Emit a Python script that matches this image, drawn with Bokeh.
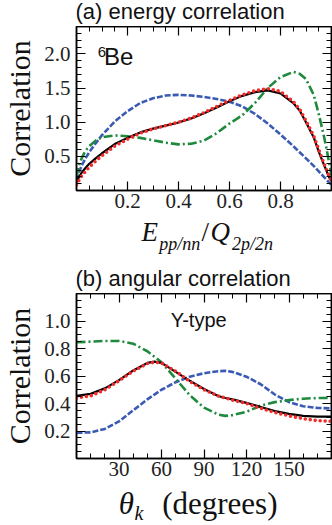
from bokeh.plotting import figure
from bokeh.models import Range1d, FixedTicker, LinearAxis, Label
from bokeh.layouts import column
from bokeh.embed import file_html
from bokeh.resources import INLINE

# ---------------- (a) energy correlation ----------------
energy_x = [0.0, 0.01, 0.02, 0.035, 0.05, 0.075, 0.1, 0.15, 0.2, 0.25, 0.3, 0.35,
            0.4, 0.45, 0.5, 0.55, 0.6, 0.65, 0.7, 0.75, 0.8, 0.85, 0.875, 0.9,
            0.93, 0.95, 0.97, 0.98, 0.99, 1.0]
energy_black = [0.12, 0.2, 0.26, 0.33, 0.39, 0.47, 0.545, 0.68, 0.77, 0.85, 0.905, 0.95,
                0.995, 1.055, 1.13, 1.215, 1.305, 1.385, 1.44, 1.465, 1.42, 1.28, 1.17, 1.0,
                0.78, 0.57, 0.38, 0.29, 0.2, 0.14]
energy_red = [0.08, 0.15, 0.21, 0.28, 0.34, 0.43, 0.51, 0.65, 0.75, 0.84, 0.9, 0.95,
              1.0, 1.06, 1.14, 1.23, 1.32, 1.4, 1.46, 1.49, 1.45, 1.3, 1.19, 1.02,
              0.8, 0.6, 0.4, 0.31, 0.22, 0.13]
energy_blue = [0.15, 0.27, 0.36, 0.47, 0.56, 0.69, 0.81, 1.01, 1.16, 1.28, 1.35, 1.39,
               1.4, 1.39, 1.37, 1.34, 1.3, 1.23, 1.12, 0.98, 0.82, 0.65, 0.56, 0.47,
               0.36, 0.28, 0.2, 0.16, 0.12, 0.08]
energy_green = [0.2, 0.37, 0.47, 0.58, 0.65, 0.73, 0.78, 0.805, 0.795, 0.77, 0.735, 0.7,
                0.675, 0.685, 0.73, 0.84, 0.98, 1.1, 1.28, 1.5, 1.66, 1.735, 1.71, 1.63,
                1.4, 1.12, 0.8, 0.62, 0.42, 0.22]
energy_xticks = [0.2, 0.4, 0.6, 0.8]
energy_xtick_labels = ["0.2", "0.4", "0.6", "0.8"]
energy_yticks = [0.5, 1.0, 1.5, 2.0]
energy_ytick_labels = ["0.5", "1.0", "1.5", "2.0"]

# ---------------- (b) angular correlation ----------------
angle_x = [0, 10, 20, 30, 40, 50, 55, 60, 70, 80, 90, 100, 105, 110, 120, 130,
           140, 150, 160, 170, 180]
angle_black = [0.455, 0.47, 0.51, 0.57, 0.64, 0.695, 0.705, 0.695, 0.63, 0.565, 0.505,
               0.455, 0.44, 0.43, 0.405, 0.375, 0.345, 0.325, 0.31, 0.305, 0.305]
angle_red = [0.44, 0.455, 0.5, 0.565, 0.635, 0.69, 0.7, 0.695, 0.635, 0.56, 0.5,
             0.455, 0.44, 0.425, 0.4, 0.365, 0.335, 0.31, 0.29, 0.275, 0.27]
angle_blue = [0.187, 0.19, 0.215, 0.27, 0.35, 0.43, 0.465, 0.5, 0.555, 0.595, 0.62,
              0.635, 0.637, 0.63, 0.595, 0.54, 0.465, 0.41, 0.38, 0.368, 0.364]
angle_green = [0.845, 0.85, 0.855, 0.855, 0.835, 0.78, 0.74, 0.7, 0.58, 0.46, 0.37,
               0.32, 0.31, 0.315, 0.34, 0.385, 0.41, 0.425, 0.435, 0.44, 0.44]
angle_xticks = [30, 60, 90, 120, 150]
angle_xtick_labels = ["30", "60", "90", "120", "150"]
angle_yticks = [0.2, 0.4, 0.6, 0.8, 1.0]
angle_ytick_labels = ["0.2", "0.4", "0.6", "0.8", "1.0"]

BLUE = "#3A5AB4"
GREEN = "#1E8A3C"
RED = "#F42A2A"
SERIF = "Liberation Serif"
SANS = "Liberation Sans"
W = 332
LEFT, RIGHT = 72, 1


def style_axis(ax, ticks, minor, labels=None):
    ax.ticker = FixedTicker(ticks=ticks, minor_ticks=minor)
    ax.axis_line_color = "black"
    ax.axis_line_width = 1.5
    ax.major_tick_line_color = "black"
    ax.minor_tick_line_color = "black"
    ax.major_tick_line_width = 1.2
    ax.minor_tick_line_width = 1.0
    ax.major_tick_in = 9
    ax.major_tick_out = 0
    ax.minor_tick_in = 5
    ax.minor_tick_out = 0
    if labels is None:
        ax.major_label_overrides = {t: "" for t in ticks}
        ax.major_label_text_font_size = "1px"
        ax.major_label_standoff = 0
    else:
        ax.major_label_overrides = {t: l for t, l in zip(ticks, labels)}
        ax.major_label_text_font = SERIF
        ax.major_label_text_font_size = "21px"
        ax.major_label_text_color = "#222222"


def make_fig(height, bottom, xr, yr, xt, xminor, xl, yt, yminor, yl):
    p = figure(width=W, height=height, x_range=Range1d(*xr), y_range=Range1d(*yr),
               output_backend="svg", toolbar_location=None,
               min_border_left=LEFT, min_border_right=RIGHT, min_border_top=0,
               min_border_bottom=bottom)
    p.title = None
    p.grid.visible = False
    p.outline_line_color = "black"
    p.outline_line_width = 1.5
    style_axis(p.xaxis[0], xt, xminor, xl)
    p.xaxis[0].major_label_standoff = 3
    style_axis(p.yaxis[0], yt, yminor, yl)
    p.yaxis[0].major_label_standoff = 6
    p.yaxis[0].axis_label = "Correlation"
    p.yaxis[0].axis_label_text_font = SERIF
    p.yaxis[0].axis_label_text_font_style = "normal"
    p.yaxis[0].axis_label_text_font_size = "30px"
    p.yaxis[0].axis_label_text_color = "#111111"
    p.yaxis[0].axis_label_standoff = 5
    ax_top = LinearAxis()
    style_axis(ax_top, xt, xminor)
    p.add_layout(ax_top, "above")
    ax_right = LinearAxis()
    style_axis(ax_right, yt, yminor)
    p.add_layout(ax_right, "right")
    return p


def text_fig(height):
    # frame spans the same pixels as the plot frames; x data = page pixel
    t = figure(width=W, height=height, x_range=Range1d(LEFT, W - RIGHT),
               y_range=Range1d(0, height), output_backend="svg", toolbar_location=None,
               x_axis_location=None, y_axis_location=None,
               min_border_left=LEFT, min_border_right=RIGHT, min_border_top=0,
               min_border_bottom=0)
    t.title = None
    t.outline_line_color = None
    t.grid.visible = False
    return t


def draw(p, x, blue, green, black, red):
    p.line(x, blue, line_color=BLUE, line_width=2.6, line_dash="6 2")
    p.line(x, green, line_color=GREEN, line_width=2.6, line_dash="9 3 2 3")
    p.line(x, black, line_color="black", line_width=2.2)
    p.line(x, red, line_color=RED, line_width=3.6, line_dash="0 5", line_cap="round")


def lab(p, x, y, text, size, font=SERIF, style="normal"):
    # y is the vertical middle of the text
    p.add_layout(Label(x=x, y=y, text=text, text_font=font, text_font_size=size,
                       text_font_style=style, text_baseline="middle",
                       text_align="left", text_color="#111111"))


# ---------- title (a) ----------
t1 = text_fig(26)
lab(t1, 71, 14.7, "(a) energy correlation", "22px", font=SANS)

# ---------- panel (a) ----------
pa = make_fig(192, 28, (0, 1), (0, 2.4), energy_xticks, [i * 0.05 for i in range(21)],
              energy_xtick_labels, energy_yticks, [i * 0.1 for i in range(25)],
              energy_ytick_labels)
draw(pa, energy_x, energy_blue, energy_green, energy_black, energy_red)
lab(pa, 0.083, 2.03, "6", "15px", font=SANS)
lab(pa, 0.108, 1.965, "Be", "24px", font=SANS)

# ---------- x label (a) + title (b) ----------
mid = text_fig(75)
lab(mid, 138, 61.5, "E", "27px", style="italic")
lab(mid, 156, 49.6, "pp/nn", "18px", style="italic")
lab(mid, 199, 61.5, "/", "27px")
lab(mid, 208, 61.5, "Q", "27px", style="italic")
lab(mid, 230, 49.6, "2p/2n", "18px", style="italic")
lab(mid, 71, 14.8, "(b) angular correlation", "22px", font=SANS)

# ---------- panel (b) ----------
pb = make_fig(192, 27, (0, 180), (0, 1.2), angle_xticks, list(range(0, 181, 10)),
              angle_xtick_labels, angle_yticks, [i * 0.05 for i in range(25)],
              angle_ytick_labels)
draw(pb, angle_x, angle_blue, angle_green, angle_black, angle_red)
lab(pb, 66.5, 1.005, "Y-type", "20px", font=SANS)

# ---------- x label (b) ----------
bot = text_fig(40)
lab(bot, 115, 22.5, "θ", "31px", style="italic")
lab(bot, 131, 12.8, "k", "20px", style="italic")
lab(bot, 159, 22.5, "(degrees)", "31px")

layout = column(t1, pa, mid, pb, bot, spacing=0)
open("out.html", "w").write(file_html(layout, INLINE))
